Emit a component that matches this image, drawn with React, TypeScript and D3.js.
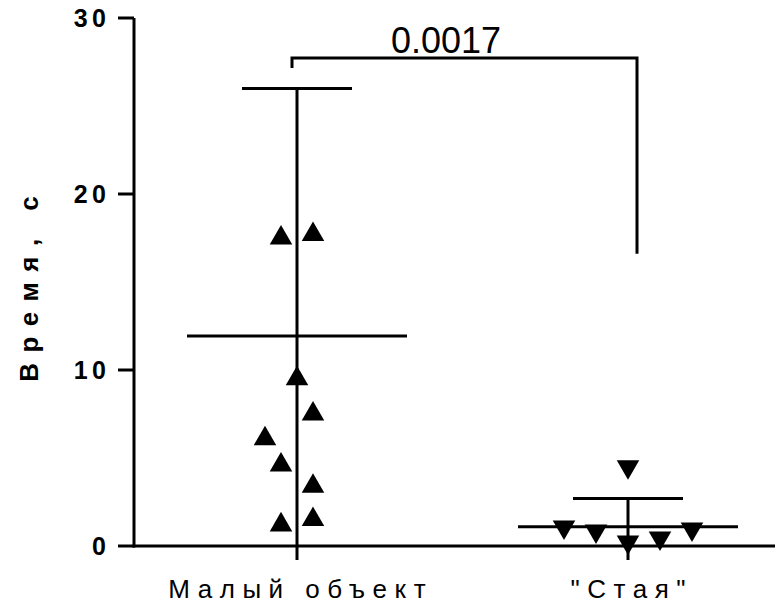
import React from 'react'
import * as d3 from 'd3'

const groups = ['Малый объект', '"Стая"']
const smallObject = [17.5, 17.7, 9.5, 7.5, 6.1, 4.6, 3.4, 1.2, 1.5]
const smallOffsets = [-1, 1, 0, 1, -2, -1, 1, -1, 1]
const flock = [4.5, 1.08, 0.85, 0.23, 0.45, 0.97]
const flockOffsets = [0, -4, -2, 0, 2, 4]
const means = [11.93, 1.1]
const sdUpper = [26.0, 2.7]
const yTicks = [0, 10, 20, 30]
const pValue = '0.0017'

const W = 779
const H = 607

const App = () => {
  const y = d3.scaleLinear().domain([0, 30]).range([546, 18])
  const x = d3.scalePoint().domain(groups).range([297, 628])
  const jitter = 16
  const tri = d3.symbol(d3.symbolTriangle, 220)()
  const font = 'Arial, "Liberation Sans", sans-serif'
  const sw = 3

  const meanHalf = 110
  const capHalf = 55

  const summaries = groups.map((g, i) => {
    const cx = x(g)
    return (
      <g key={g} stroke='#000' strokeWidth={sw}>
        <line x1={cx - meanHalf} x2={cx + meanHalf} y1={y(means[i])} y2={y(means[i])} />
        <line x1={cx - capHalf} x2={cx + capHalf} y1={y(sdUpper[i])} y2={y(sdUpper[i])} />
        <line x1={cx} x2={cx} y1={y(sdUpper[i])} y2={y(0) + 14} />
      </g>
    )
  })

  const pts1 = smallObject.map((v, i) => (
    <path key={'a' + i} d={tri} fill='#000'
      transform={`translate(${x(groups[0]) + smallOffsets[i] * jitter},${y(v)})`} />
  ))
  const pts2 = flock.map((v, i) => (
    <path key={'b' + i} d={tri} fill='#000'
      transform={`translate(${x(groups[1]) + flockOffsets[i] * jitter},${y(v)}) rotate(180)`} />
  ))

  const tickLs = 4.5
  const ticks = yTicks.map(t => (
    <g key={t}>
      <line x1={118} x2={134} y1={y(t)} y2={y(t)} stroke='#000' strokeWidth={sw} />
      <text x={106 + tickLs} y={y(t) + 9} textAnchor='end' fontFamily={font} fontWeight='bold'
        fontSize={25} letterSpacing={tickLs}>{t}</text>
    </g>
  ))

  const bx1 = x(groups[0]) - 5
  const bx2 = x(groups[1]) + 9
  const by = 58

  const xLs = 7.5
  const titleLs = 10.5

  return (
    <svg width={W} height={H} style={{ position: 'absolute', left: 0, top: 0 }}>
      <rect width={W} height={H} fill='#fff' />
      <line x1={134} x2={134} y1={y(30)} y2={y(0) + 1.5} stroke='#000' strokeWidth={sw} />
      <line x1={132.5} x2={W - 4} y1={y(0)} y2={y(0)} stroke='#000' strokeWidth={sw} />
      {ticks}
      {summaries}
      {pts1}
      {pts2}
      <path d={`M${bx1},${by + 10}V${by}H${bx2}V${y(16.6)}`} fill='none' stroke='#000' strokeWidth={sw} />
      <text x={446} y={53} textAnchor='middle' fontFamily={font} fontSize={36}>{pValue}</text>
      {groups.map(g => (
        <text key={g} x={x(g) + xLs / 2} y={598} textAnchor='middle' fontFamily={font} fontSize={26}
          letterSpacing={xLs}>{g}</text>
      ))}
      <text transform={`translate(38,${278.5 + titleLs / 2}) rotate(-90)`} textAnchor='middle'
        fontFamily={font} fontWeight='bold' fontSize={26} letterSpacing={titleLs}>Время, с</text>
    </svg>
  )
}

export default App
